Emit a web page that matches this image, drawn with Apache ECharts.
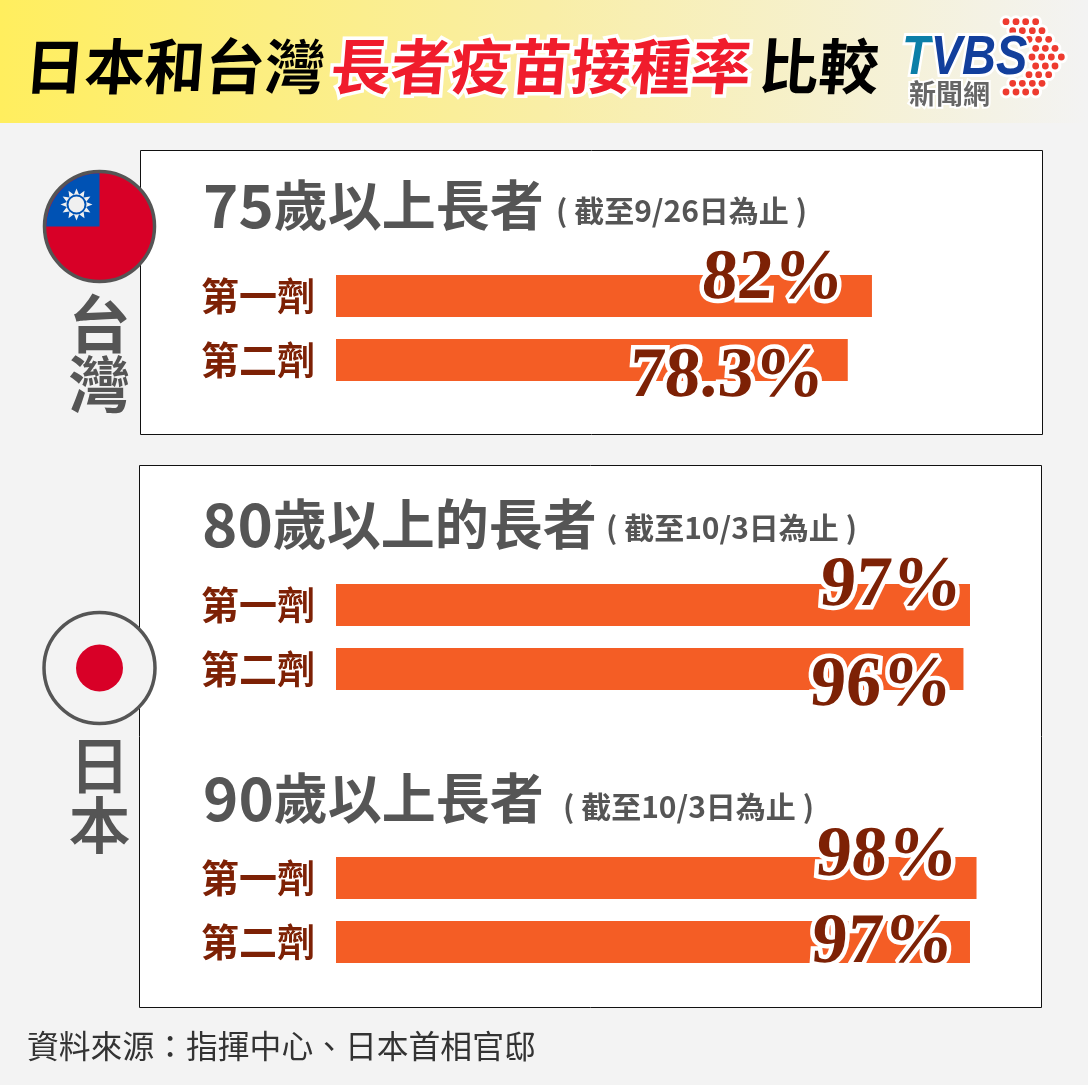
<!DOCTYPE html>
<html><head><meta charset="utf-8">
<style>html,body{margin:0;padding:0;background:#f3f3f3}#c{width:1088px;height:1085px}</style>
<script src="https://cdn.jsdelivr.net/npm/echarts@6/dist/echarts.min.js"></script>
</head><body><div id="c"></div>
<script>
const doseLabels = ['第一劑','第二劑'];
const taiwan75 = [82, 78.3];
const japan80 = [97, 96];
const japan90 = [98, 97];
const tickMax = 100;
const titleParts = ['日本和台灣','長者疫苗接種率','比較'];
const sourceText = '資料來源：指揮中心、日本首相官邸';

const CJK = '"Noto Sans CJK TC","Noto Sans CJK SC",sans-serif';
const GREY = '#555555', BROWN = '#7d2105', ORANGE = '#f45d25';
const chart = echarts.init(document.getElementById('c'), null, {renderer:'canvas', width:1088, height:1085});

const groups = [
  {d:taiwan75, top:264, off:[[-29,-16],[-22,18]]},
  {d:japan80, top:573, off:[[-9,-18],[-10,18]]},
  {d:japan90, top:846, off:[[-20,-21],[-16,2]]}
];
const grids = groups.map(g=>({left:336, width:653.6, top:g.top, height:128, containLabel:false}));
const xAxes = groups.map((g,i)=>({gridIndex:i, type:'value', min:0, max:tickMax, show:false}));
const yAxes = groups.map((g,i)=>({gridIndex:i, type:'category', inverse:true, data:doseLabels,
  axisLine:{show:false}, axisTick:{show:false}, splitLine:{show:false},
  axisLabel:{margin:21, color:BROWN, fontFamily:CJK, fontWeight:'bold', fontSize:38, padding:[7,0,0,0]}}));
const series = groups.map((g,i)=>({type:'bar', xAxisIndex:i, yAxisIndex:i, barWidth:42, silent:true, clip:false,
  itemStyle:{color:ORANGE}, z:2,
  data:g.d.map((v,j)=>({value:v, label:{offset:g.off[j]}})),
  label:{show:true, position:'insideRight', distance:0, formatter:p=>p.value+'%', color:BROWN,
    fontFamily:'"Liberation Serif",serif', fontWeight:'bold', fontSize:71,
    textBorderColor:'#fff', textBorderWidth:9}}));

const txt=(x,y,text,o={})=>({type:'text', x, y, z:o.z||5, style:Object.assign({text, fontFamily:CJK, fontWeight:'bold', fontSize:30, fill:GREY, align:'left', verticalAlign:'middle'}, o.s||{})});
const heading=(x,y,d,t)=>({type:'text', x, y, z:5, style:{
  text:'{d|'+d+'}{t|'+t+'}', align:'left', verticalAlign:'middle', fontFamily:CJK, fontWeight:'bold',
  rich:{d:{fontFamily:CJK,fontWeight:'bold',fontSize:60,fill:GREY,lineHeight:60},t:{fontFamily:CJK,fontWeight:'bold',fontSize:54,fill:GREY,lineHeight:60}}}});

const g=[];
g.push({type:'rect', shape:{x:0,y:0,width:1088,height:123}, z:0, style:{fill:new echarts.graphic.LinearGradient(0,0,1,0,[{offset:0,color:'#ffee5e'},{offset:0.5,color:'#f9eea6'},{offset:1,color:'#f3f3f3'}])}});
g.push({type:'rect', shape:{x:140.5,y:150.5,width:902,height:284}, z:0, style:{fill:'#fff',stroke:'#111',lineWidth:1}});
g.push({type:'rect', shape:{x:139.5,y:465.5,width:902,height:542}, z:0, style:{fill:'#fff',stroke:'#111',lineWidth:1}});
// title
g.push(txt(25,66,titleParts[0],{s:{fontSize:60,fill:'#000'}}));
g.push(txt(331,66,titleParts[1],{s:{fontSize:60,fill:'#f01c2c',stroke:'#fff',lineWidth:7}}));
g.push(txt(759,66,titleParts[2],{s:{fontSize:60,fill:'#000'}}));
// logo
const rows=[[21.7,[438,468,497,527]],[30.7,[458,487,517,546]],[39.3,[477,507,536,566]],[48.3,[527,556,585]],[57,[516,545,574,604]],[66,[527,556,585]],[74.7,[507,536,566]],[83.3,[458,487,517,546]],[92,[438,468,497,527]]];
rows.forEach(r=>r[1].forEach(x=>g.push({type:'circle',shape:{cx:860+x/3,cy:r[0],r:3.4},z:3,style:{fill:'#ee3b2f',stroke:'#fff',lineWidth:6}})));
rows.forEach(r=>r[1].forEach(x=>g.push({type:'circle',shape:{cx:860+x/3,cy:r[0],r:3.4},z:4,style:{fill:'#ee3b2f'}})));
const LOGOFONT={fontFamily:'"Liberation Sans",sans-serif',fontStyle:'italic',fontWeight:'bold',fontSize:47,stroke:'#fff',lineWidth:5};
g.push({type:'text',x:902,y:59,z:6,scaleY:1.18,style:{text:'{t|T}{v|VBS}',verticalAlign:'middle',fontFamily:LOGOFONT.fontFamily,fontSize:47,
  rich:{t:Object.assign({fill:'#0b7fa8'},LOGOFONT),v:Object.assign({fill:'#123f9c'},LOGOFONT)}}});
g.push(txt(909,94,'新聞網',{z:6,s:{fontSize:27,fill:'#666',stroke:'#fff',lineWidth:4}}));
// taiwan flag
g.push({type:'circle',shape:{cx:99.5,cy:226.5,r:55},z:6,style:{fill:'#d80027',stroke:GREY,lineWidth:3.5}});
g.push({type:'sector',shape:{cx:99.5,cy:226.5,r:53.2,r0:0,startAngle:Math.PI,endAngle:Math.PI*1.5},z:7,style:{fill:'#0052b4'}});
const star=[];for(let i=0;i<24;i++){const r=i%2?10:16,a=i*Math.PI/12;star.push([76.5+r*Math.cos(a),204.5+r*Math.sin(a)]);}
g.push({type:'polygon',shape:{points:star},z:8,style:{fill:'#f0f0f0'}});
g.push({type:'circle',shape:{cx:76.5,cy:204.5,r:9},z:9,style:{fill:'#f0f0f0',stroke:'#0052b4',lineWidth:2}});
// japan flag
g.push({type:'circle',shape:{cx:99.5,cy:668,r:55.5},z:6,style:{fill:'#f3f3f3',stroke:GREY,lineWidth:3.5}});
g.push({type:'circle',shape:{cx:99.5,cy:668,r:23.5},z:7,style:{fill:'#d80027'}});
// country labels
g.push(txt(99.5,354,'台\n灣',{s:{fontSize:62,align:'center',lineHeight:60}}));
g.push(txt(99.5,795,'日\n本',{s:{fontSize:60,align:'center',lineHeight:60,fontWeight:'normal',fill:GREY,stroke:GREY,lineWidth:2}}));
// headings
g.push(heading(203,205,'75','歲以上長者'));
g.push(txt(556,211,'( 截至9/26日為止 )',{s:{fontSize:30}}));
g.push(heading(202,524,'80','歲以上的長者'));
g.push(txt(606,528,'( 截至10/3日為止 )',{s:{fontSize:30}}));
g.push(heading(203,798,'90','歲以上長者'));
g.push(txt(563,807,'( 截至10/3日為止 )',{s:{fontSize:30}}));
g.push(txt(27,1046,sourceText,{s:{fontSize:31.8,fontWeight:'normal',fill:'#333'}}));

chart.setOption({backgroundColor:'#f3f3f3', animation:false, grid:grids, xAxis:xAxes, yAxis:yAxes, series, graphic:{elements:g}});

// The reference lettering leans slightly: skew the title and the value labels.
const lean = (el, a) => { el.skewX = a; el.markRedraw && el.markRedraw(); };
chart.getZr().storage.traverse(el => {
  const t = el.style && el.style.text;
  if (typeof t === 'string' && titleParts.includes(t)) lean(el, -0.08);
  const label = el.getTextContent && el.getTextContent();
  if (label && label.style && /%$/.test(String(label.style.text))) {
    lean(label, -0.07);
    if (label.innerTransformable) label.innerTransformable.skewX = -0.07;
  }
});
chart.getZr().refreshImmediately();
</script></body></html>
